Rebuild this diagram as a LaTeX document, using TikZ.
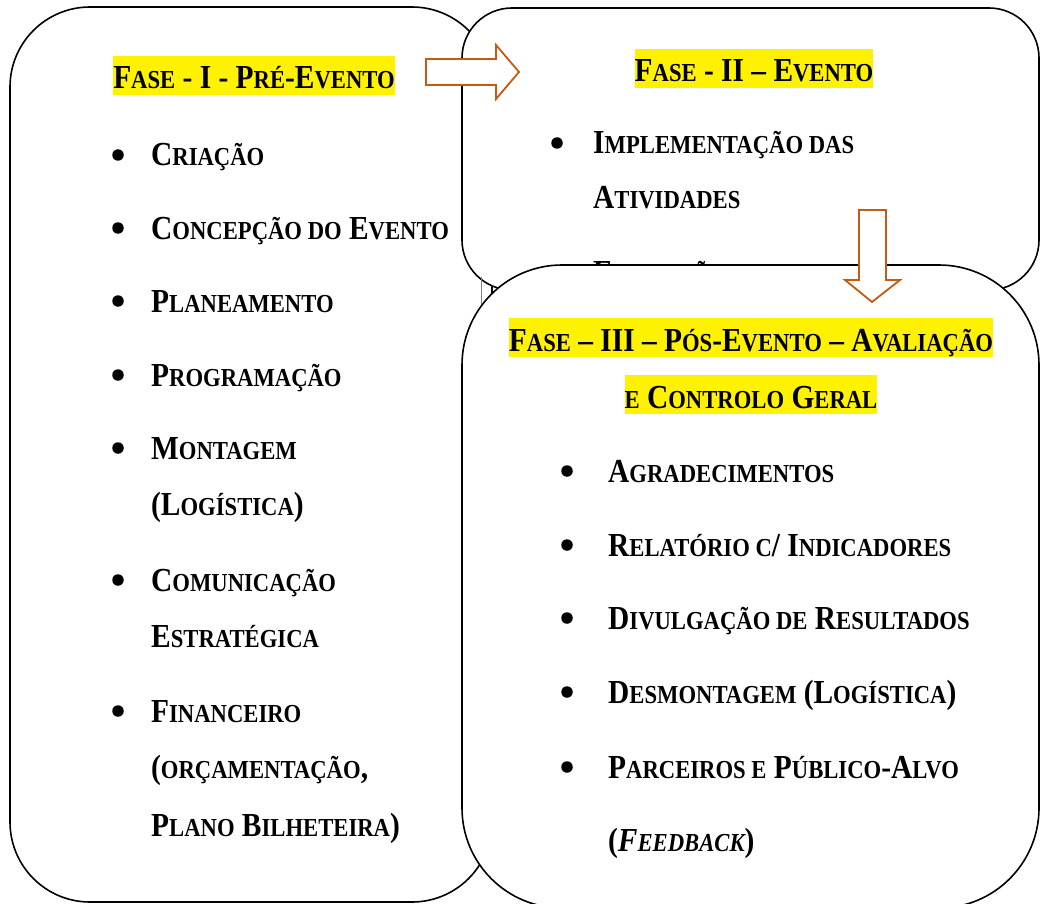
\documentclass[tikz,border=0pt]{standalone}
\usepackage{fontspec}
\setmainfont[FakeStretch=0.875]{Liberation Serif}
\usepackage{tikz}

\definecolor{setaLaranja}{RGB}{197,90,17}
\newcommand\smc[1]{{\fontsize{25.9}{30}\selectfont #1}}

\tikzset{
  caixa/.style={draw=black,line width=1.6pt,fill=white},
  seta/.style={draw=setaLaranja,line width=1.8pt,fill=white,line join=miter},
  titulo/.style={fill=yellow,inner sep=0pt,anchor=base,text height=33pt,text depth=6pt,font=\bfseries\fontsize{33.6}{40}\selectfont},
  item/.style={anchor=base west,inner sep=0pt,font=\bfseries\fontsize{33.6}{40}\selectfont},
  ponto/.style={circle,fill=black,inner sep=0pt,minimum size=11.5pt}
}

\begin{document}
\begin{tikzpicture}[x=1pt,y=-1pt]

\useasboundingbox (0,0) rectangle (1041,904);
\clip (0,0) rectangle (1041,904);

% fase I
\draw [caixa,rounded corners=80pt] (10,7) rectangle (492,902);

\node [titulo] (t1) at (254,89) {F\smc{ASE} - I - P\smc{RÉ}-E\smc{VENTO}};

\node [ponto] (p11) at (118,155) {};
\node [item] (i11) at (151,166) {C\smc{RIAÇÃO}};
\node [ponto] (p12) at (118,228) {};
\node [item] (i12) at (151,239) {C\smc{ONCEPÇÃO DO} E\smc{VENTO}};
\node [ponto] (p13) at (118,301) {};
\node [item] (i13) at (151,312) {P\smc{LANEAMENTO}};
\node [ponto] (p14) at (118,375) {};
\node [item] (i14) at (151,386) {P\smc{ROGRAMAÇÃO}};
\node [ponto] (p15) at (118,448) {};
\node [item] (i15) at (151,459) {M\smc{ONTAGEM}};
\node [item] (i15b) at (151,515) {(L\smc{OGÍSTICA})};
\node [ponto] (p16) at (118,580) {};
\node [item] (i16) at (151,591) {C\smc{OMUNICAÇÃO}};
\node [item] (i16b) at (151,647) {E\smc{STRATÉGICA}};
\node [ponto] (p17) at (118,711) {};
\node [item] (i17) at (151,722) {F\smc{INANCEIRO}};
\node [item] (i17b) at (151,778) {(\smc{ORÇAMENTAÇÃO},};
\node [item] (i17c) at (151,836) {P\smc{LANO} B\smc{ILHETEIRA})};

% fase II
\draw [caixa,rounded corners=50pt] (462,8) rectangle (1039,290);

\node [titulo] (t2) at (754,82) {F\smc{ASE} - II – E\smc{VENTO}};

\node [ponto] (p21) at (557,143) {};
\node [item] (i21) at (593,154) {I\smc{MPLEMENTAÇÃO DAS}};
\node [item] (i21b) at (593,209) {A\smc{TIVIDADES}};
\node [ponto] (p22) at (557,272) {};
\node [item] (i22) at (593,283) {E\smc{XECUÇÃO}};

\draw [gray,line width=1pt] (481,277) -- (481,310);

% fase III
\draw [caixa,rounded corners=100pt] (462,265) rectangle (1039,908);

\node [titulo] (t3) at (751,351) {F\smc{ASE} – III – P\smc{ÓS}-E\smc{VENTO} – A\smc{VALIAÇÃO}};
\node [titulo] (t3b) at (751,408) {\smc{E} C\smc{ONTROLO} G\smc{ERAL}};

\node [ponto] (p31) at (567,471) {};
\node [item] (i31) at (608,482) {A\smc{GRADECIMENTOS}};
\node [ponto] (p32) at (567,545) {};
\node [item] (i32) at (608,556) {R\smc{ELATÓRIO C}/ I\smc{NDICADORES}};
\node [ponto] (p33) at (567,618) {};
\node [item] (i33) at (608,629) {D\smc{IVULGAÇÃO DE} R\smc{ESULTADOS}};
\node [ponto] (p34) at (567,692) {};
\node [item] (i34) at (608,703) {D\smc{ESMONTAGEM} (L\smc{OGÍSTICA})};
\node [ponto] (p35) at (567,767) {};
\node [item] (i35) at (608,778) {P\smc{ARCEIROS E} P\smc{ÚBLICO}-A\smc{LVO}};
\node [item] (i35b) at (608,851) {({\itshape F\smc{EEDBACK}})};

% setas
\draw [seta] (426,59) -- (496,59) -- (496,45) -- (519,72) -- (496,99) -- (496,85) -- (426,85) -- cycle;
\draw [seta] (859,210) -- (886,210) -- (886,280) -- (900,280) -- (872,302) -- (845,280) -- (859,280) -- cycle;

\end{tikzpicture}
\end{document}
